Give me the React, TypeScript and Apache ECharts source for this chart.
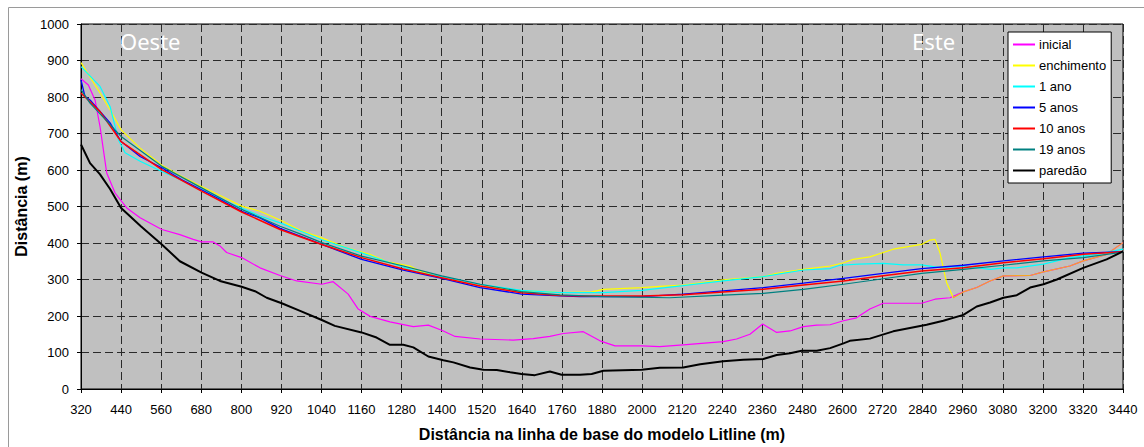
import React, { useEffect, useRef } from "react";
import * as echarts from "echarts";

// x origin of the distance axis and its tick step
const X_START = 320;
const X_END = 3440;
const X_STEP = 120;
// from this distance on, "inicial" and "enchimento" coincide (drawn orange in the original)
const OVERLAP_FROM = 2932;

const seriesNames = ["inicial", "enchimento", "1 ano", "5 anos", "10 anos", "19 anos", "paredão"];

const inicial: number[][] = [
  [320, 850], [342, 833], [362, 792], [377, 719], [397, 592], [422, 537], [457, 496], [497, 469],
  [562, 437], [616, 423], [656, 410], [681, 403], [716, 403], [736, 392], [756, 374], [801, 360],
  [856, 332], [916, 311], [966, 296], [1041, 287], [1075, 294], [1120, 260], [1150, 219], [1186, 199],
  [1245, 184], [1315, 171], [1360, 175], [1400, 161], [1440, 144], [1515, 137], [1614, 134], [1674, 138],
  [1724, 144], [1764, 152], [1824, 157], [1874, 132], [1919, 118], [1999, 118], [2053, 116], [2123, 121],
  [2243, 130], [2283, 137], [2323, 150], [2361, 178], [2403, 155], [2443, 159], [2483, 171], [2523, 175],
  [2563, 176], [2603, 187], [2642, 195], [2682, 219], [2722, 235], [2782, 235], [2837, 235], [2877, 246],
  [2922, 250], [2962, 266], [3002, 278], [3042, 296], [3082, 310], [3162, 311], [3202, 321], [3281, 337],
  [3321, 351], [3391, 369], [3440, 401],
];

const enchimento: number[][] = [
  [320, 894], [377, 811], [407, 765], [440, 710], [497, 660], [562, 613], [621, 583], [681, 555],
  [741, 528], [801, 501], [856, 487], [916, 463], [976, 435], [1041, 414], [1115, 387], [1185, 369],
  [1235, 349], [1305, 337], [1335, 323], [1400, 305], [1515, 282], [1639, 269], [1714, 267], [1754, 264],
  [1849, 266], [1884, 273], [1999, 278], [2053, 281], [2123, 285], [2243, 299], [2363, 308], [2403, 317],
  [2483, 328], [2563, 337], [2603, 346], [2632, 355], [2682, 362], [2752, 383], [2837, 396], [2862, 408],
  [2877, 410], [2892, 373], [2912, 291], [2932, 250], [2962, 266], [3002, 278], [3042, 296], [3082, 310],
  [3162, 311], [3202, 321], [3281, 337], [3321, 351], [3391, 369], [3440, 401],
];

const umAno: number[][] = [
  [320, 883], [377, 829], [407, 774], [432, 683], [452, 647], [497, 624], [562, 596], [616, 574],
  [681, 546], [741, 519], [801, 496], [856, 474], [916, 455], [976, 433], [1041, 409], [1160, 373],
  [1245, 346], [1335, 319], [1400, 308], [1515, 287], [1639, 270], [1754, 264], [1884, 264], [1999, 270],
  [2123, 283], [2243, 296], [2363, 308], [2483, 326], [2563, 330], [2592, 339], [2648, 342], [2722, 344],
  [2782, 340], [2837, 340], [2882, 334], [2922, 334], [2962, 337], [3042, 328], [3082, 332], [3122, 332],
  [3202, 342], [3281, 360], [3361, 369], [3440, 383],
];

const cincoAnos: number[][] = [
  [320, 847], [332, 801], [347, 792], [407, 729], [440, 678], [497, 637], [562, 606], [621, 574],
  [681, 546], [741, 517], [801, 487], [856, 469], [916, 440], [976, 419], [1041, 396], [1160, 355],
  [1285, 326], [1400, 303], [1515, 278], [1639, 260], [1754, 255], [1814, 253], [1999, 253], [2123, 260],
  [2243, 269], [2363, 278], [2483, 290], [2603, 303], [2722, 317], [2837, 330], [2962, 339], [3082, 351],
  [3202, 362], [3321, 372], [3440, 376],
];

const dezAnos: number[][] = [
  [320, 811], [377, 760], [440, 678], [562, 601], [681, 542], [801, 485], [916, 437], [976, 417],
  [1041, 396], [1160, 360], [1285, 329], [1400, 305], [1515, 282], [1639, 264], [1754, 256], [1814, 255],
  [1999, 255], [2123, 258], [2243, 266], [2363, 273], [2483, 285], [2603, 296], [2722, 310], [2837, 323],
  [2962, 332], [3082, 346], [3202, 357], [3321, 369], [3440, 376],
];

const dezanoveAnos: number[][] = [
  [320, 820], [347, 783], [440, 692], [562, 610], [681, 551], [801, 492], [916, 446], [976, 425],
  [1041, 401], [1160, 364], [1285, 337], [1400, 310], [1515, 287], [1639, 267], [1754, 258], [1884, 253],
  [2083, 250], [2243, 257], [2363, 262], [2483, 273], [2603, 287], [2722, 302], [2837, 317], [2962, 328],
  [3082, 339], [3202, 351], [3321, 360], [3440, 375],
];

const paredao: number[][] = [
  [320, 670], [347, 619], [377, 588], [407, 548], [440, 496], [500, 445], [562, 396], [616, 350],
  [681, 319], [736, 296], [801, 280], [841, 268], [876, 250], [921, 235], [976, 214], [1041, 189],
  [1080, 173], [1160, 155], [1205, 141], [1245, 121], [1285, 121], [1315, 114], [1360, 89], [1405, 79],
  [1435, 73], [1485, 59], [1525, 53], [1565, 52], [1605, 46], [1639, 41], [1679, 38], [1724, 48],
  [1759, 39], [1814, 39], [1849, 41], [1884, 50], [1999, 53], [2053, 58], [2123, 59], [2174, 68],
  [2243, 76], [2303, 80], [2363, 82], [2403, 93], [2443, 98], [2478, 105], [2523, 105], [2563, 112],
  [2603, 125], [2622, 132], [2682, 138], [2752, 158], [2802, 167], [2852, 176], [2902, 187], [2962, 203],
  [3002, 226], [3042, 237], [3082, 250], [3122, 257], [3162, 278], [3202, 287], [3242, 300], [3321, 332],
  [3391, 355], [3440, 377],
];

const allData = [inicial, enchimento, umAno, cincoAnos, dezAnos, dezanoveAnos, paredao];
const colors = ["#FF00FF", "#FFFF00", "#00FFFF", "#0000FF", "#FF0000", "#008080", "#000000"];
const widths = [1.2, 1.2, 1.2, 1.3, 1.5, 1.2, 2];

export default function App() {
  const ref = useRef<HTMLDivElement>(null);
  useEffect(() => {
    if (!ref.current) return;
    const chart = echarts.init(ref.current, undefined, { renderer: "svg" });
    const font = "Liberation Sans, Arial, sans-serif";
    const axisFont = { fontFamily: font, fontSize: 13, color: "#000" };
    const titleFont = { fontFamily: font, fontSize: 16, fontWeight: "bold", color: "#000" };
    const gridLine = { show: true, lineStyle: { color: "#2a2a2a", width: 1, type: [8, 4] } };
    const overlapOffset = (OVERLAP_FROM - X_START) / (X_END - X_START);
    const enchimentoStroke = new echarts.graphic.LinearGradient(1, 0, 0, 0, [
      { offset: 0, color: "#F5A623" },
      { offset: 1 - overlapOffset, color: "#F5A623" },
      { offset: 1 - overlapOffset, color: "#FFFF00" },
      { offset: 1, color: "#FFFF00" },
    ]);
    chart.setOption({
      animation: false,
      backgroundColor: "#fff",
      grid: {
        left: 81,
        right: 21,
        top: 24,
        bottom: 57,
        show: true,
        backgroundColor: "#C0C0C0",
        borderColor: "#000",
        borderWidth: 1,
      },
      xAxis: {
        type: "value",
        min: 0,
        max: X_END - X_START,
        interval: X_STEP,
        name: "Distância na linha de base do modelo Litline (m)",
        nameLocation: "middle",
        nameGap: 37,
        nameTextStyle: titleFont,
        axisLine: { show: true, lineStyle: { color: "#000", width: 1 } },
        axisTick: { show: true, length: 4, lineStyle: { color: "#000" } },
        axisLabel: { ...axisFont, margin: 14, formatter: (v: number) => String(v + X_START) },
        splitLine: gridLine,
      },
      yAxis: {
        type: "value",
        min: 0,
        max: 1000,
        interval: 100,
        name: "Distância (m)",
        nameLocation: "middle",
        nameGap: 52,
        nameTextStyle: titleFont,
        axisLine: { show: true, lineStyle: { color: "#000", width: 1 } },
        axisTick: { show: true, length: 4, lineStyle: { color: "#000" } },
        axisLabel: { ...axisFont, margin: 12, formatter: (v: number) => String(v) },
        splitLine: gridLine,
      },
      legend: {
        orient: "vertical",
        left: 1008,
        top: 32,
        padding: [6, 5, 6, 5],
        itemGap: 8,
        itemWidth: 22,
        itemHeight: 2,
        icon: "rect",
        backgroundColor: "#fff",
        borderColor: "#000",
        borderWidth: 1,
        borderRadius: 0,
        textStyle: { ...axisFont, padding: [0, 0, 0, -1] },
        data: seriesNames.map((n, i) => ({ name: n, itemStyle: { color: colors[i] } })),
      },
      graphic: [
        {
          type: "rect",
          left: 6,
          top: 5,
          shape: { width: 1150, height: 460 },
          style: { fill: "none", stroke: "#9a9a9a", lineWidth: 1 },
          silent: true,
        },
        {
          type: "text",
          left: 120,
          top: 30,
          style: { text: "Oeste", fill: "#fff", font: "22px 'Noto Sans', sans-serif" },
          z: 100,
        },
        {
          type: "text",
          left: 912,
          top: 30,
          style: { text: "Este", fill: "#fff", font: "22px 'Noto Sans', sans-serif" },
          z: 100,
        },
      ],
      series: allData.map((d, i) => ({
        name: seriesNames[i],
        type: "line",
        data: d.map((p) => [p[0] - X_START, p[1]]),
        showSymbol: false,
        symbol: "none",
        smooth: false,
        color: colors[i],
        lineStyle: { color: i === 1 ? enchimentoStroke : colors[i], width: widths[i] },
        z: 2 + i,
      })),
    });
    return () => chart.dispose();
  }, []);
  return (
    <div
      ref={ref}
      style={{ position: "fixed", left: 0, top: 0, width: 1144, height: 447 }}
    />
  );
}
